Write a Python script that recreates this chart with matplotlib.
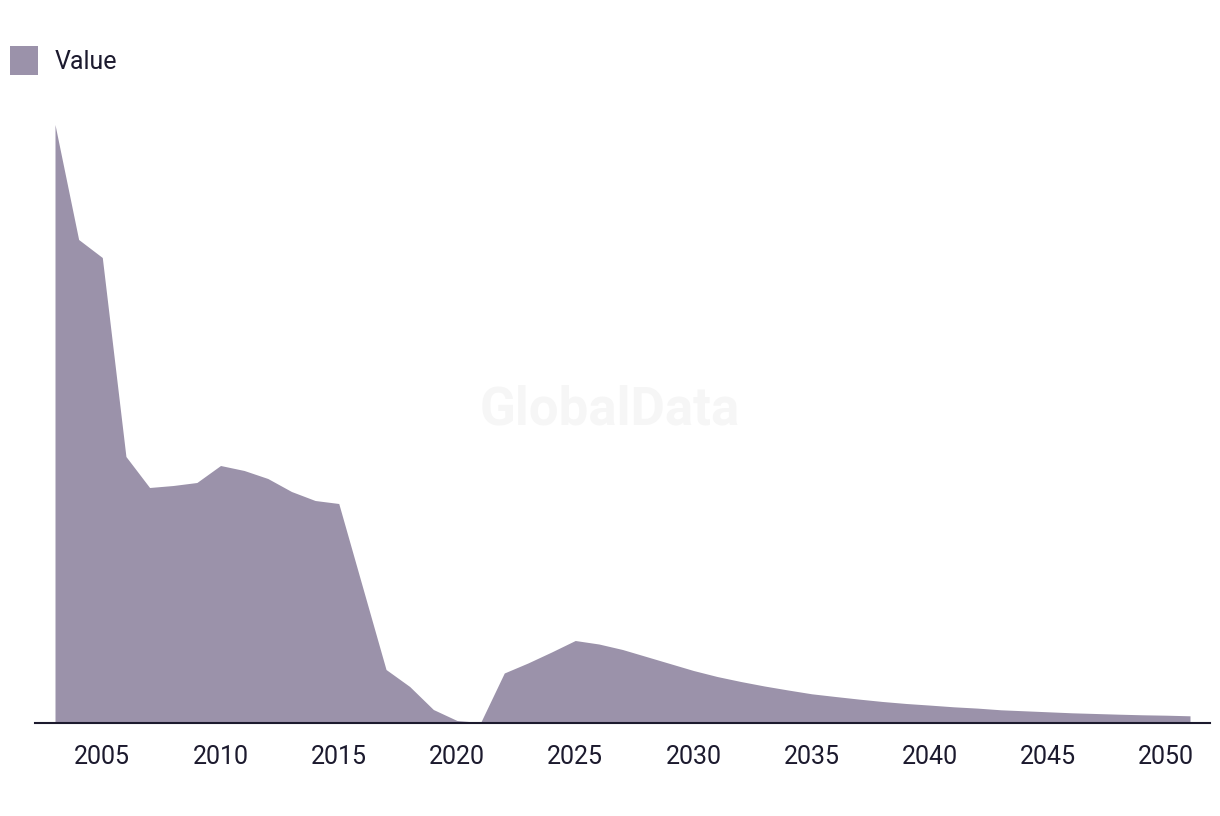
import numpy as np
import matplotlib
matplotlib.use("Agg")
import matplotlib.pyplot as plt
from matplotlib.patches import Patch

# data (no y scale shown, arbitrary units)
years = list(range(2003, 2052))
values = [598, 483, 465, 266, 235, 237, 240, 257, 252, 244,
          231, 222, 219, 136, 53, 36, 13, 2, 0, 49.5,
          59.5, 70.5, 82, 78.5, 73, 66, 59, 52, 46, 41,
          36.5, 32.5, 28.7, 26, 23.4, 21, 19, 17.4, 15.7, 14.4,
          12.7, 11.7, 10.7, 9.7, 9, 8.3, 7.7, 7.3, 6.7]
tick_years = [2005, 2010, 2015, 2020, 2025, 2030, 2035, 2040, 2045, 2050]
series_name = "Value"

fill_col = "#9b92aa"
text_col = "#1c1a2e"

plt.rcParams['font.family'] = ['Roboto', 'DejaVu Sans']

fig = plt.figure(figsize=(12.2, 8.16), dpi=100)
W, H = 1220, 816
# axes: x 35..1210 px, y 124.5..722.5 px
ax = fig.add_axes([35 / W, (H - 722.5) / H, 1175 / W, 598 / H])

ax.fill_between(years, values, 0, color=fill_col, linewidth=0, zorder=2)

px_per_year = (1190 - 55) / 48.0
ax.set_xlim(2003 - 20 / px_per_year, 2051 + 20 / px_per_year)
ax.set_ylim(0, 598)

for s in ['top', 'right', 'left']:
    ax.spines[s].set_visible(False)
ax.spines['bottom'].set_color(text_col)
ax.spines['bottom'].set_linewidth(1.5)
ax.spines['bottom'].set_zorder(3)

ax.set_yticks([])
ax.set_xticks(tick_years)
ax.set_xticklabels([str(y) for y in tick_years])
ax.tick_params(axis='x', length=0, pad=16, labelsize=18, labelcolor=text_col)

# watermark
fig.text(610 / W, 1 - 410 / H, "GlobalData", ha='center', va='center',
         fontsize=38, fontweight='bold', color='#f6f6f6', zorder=0)

handles = [Patch(facecolor=fill_col, edgecolor='none', label=series_name)]
leg = fig.legend(handles=handles, loc='upper left', bbox_to_anchor=(0.0, 1 - 36 / H),
                 frameon=False, fontsize=18, handlelength=1.1, handleheight=1.4,
                 handletextpad=0.7, borderaxespad=0, borderpad=0.4)
for t in leg.get_texts():
    t.set_color(text_col)

fig.savefig("out.png", dpi=100)
